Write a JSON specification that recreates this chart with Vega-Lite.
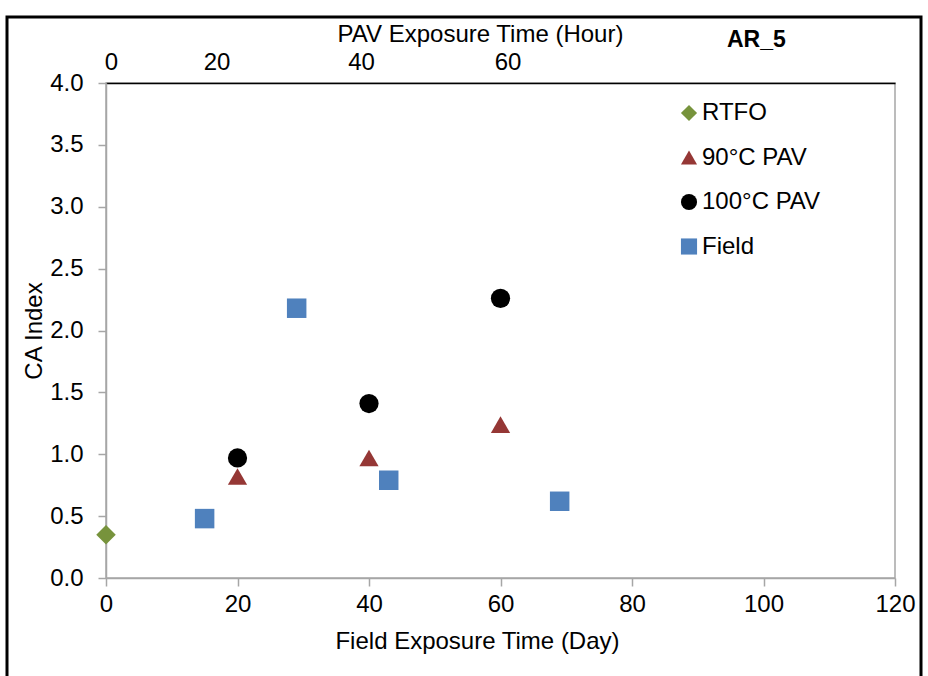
{
  "$schema": "https://vega.github.io/schema/vega-lite/v6.json",
  "width": 789,
  "height": 495,
  "autosize": {"type": "none"},
  "padding": {"left": 106, "top": 83, "right": 33, "bottom": 98},
  "background": "white",
  "title": {
    "text": "AR_5",
    "anchor": "start",
    "frame": "group",
    "dx": 621,
    "dy": 40,
    "fontSize": 23,
    "fontWeight": "bold",
    "font": "Liberation Sans",
    "color": "black"
  },
  "config": {
    "font": "Liberation Sans",
    "view": {"stroke": "#a6a6a6", "strokeWidth": 1.5},
    "axis": {
      "labelFont": "Liberation Sans",
      "titleFont": "Liberation Sans",
      "labelFontSize": 24,
      "titleFontSize": 24,
      "labelColor": "black",
      "titleColor": "black",
      "titleFontWeight": "normal",
      "labelFlush": false,
      "grid": false,
      "domainColor": "#a6a6a6",
      "domainWidth": 1.5,
      "tickColor": "#a6a6a6",
      "tickWidth": 1.5,
      "tickSize": 8
    },
    "legend": {
      "labelFont": "Liberation Sans",
      "labelFontSize": 24,
      "labelColor": "black",
      "symbolSize": 260,
      "symbolStrokeWidth": 0,
      "labelOffset": 1,
      "rowPadding": 20.5
    }
  },
  "datasets": {
    "fieldDays": [
      {"series": "RTFO", "day": 0, "ca": 0.35},
      {"series": "Field", "day": 15, "ca": 0.48},
      {"series": "Field", "day": 29, "ca": 2.18},
      {"series": "Field", "day": 43, "ca": 0.79},
      {"series": "Field", "day": 69, "ca": 0.62}
    ],
    "pavHours": [
      {"series": "90°C PAV", "hour": 20, "ca": 0.82},
      {"series": "90°C PAV", "hour": 40, "ca": 0.97},
      {"series": "90°C PAV", "hour": 60, "ca": 1.24},
      {"series": "100°C PAV", "hour": 20, "ca": 0.97},
      {"series": "100°C PAV", "hour": 40, "ca": 1.41},
      {"series": "100°C PAV", "hour": 60, "ca": 2.26}
    ]
  },
  "layer": [
    {
      "data": {"values": [{}]},
      "mark": {
        "type": "rect",
        "fill": null,
        "stroke": "black",
        "strokeWidth": 3,
        "x": {"expr": "-99"},
        "x2": {"expr": "width + 26"},
        "y": {"expr": "-66"},
        "y2": {"expr": "height + 200"}
      },
      "encoding": {}
    },
    {
      "data": {"name": "pavHours"},
      "mark": {"type": "point", "filled": true, "size": 370, "opacity": 1},
      "encoding": {
        "x": {
          "field": "hour",
          "type": "quantitative",
          "scale": {"domain": [0, 120], "nice": false},
          "axis": {
            "orient": "top",
            "values": [0, 20, 40, 60],
            "ticks": false,
            "domainColor": "black",
            "domainWidth": 1.5,
            "labelPadding": 9,
            "labelOffset": {"expr": "datum.value == 0 ? 5 : datum.value == 20 ? -21 : datum.value == 40 ? -8 : 7"},
            "title": "PAV Exposure Time (Hour)",
            "titleX": 374,
            "titleY": -42,
            "titleAlign": "center",
            "titleBaseline": "alphabetic"
          }
        },
        "y": {
          "field": "ca",
          "type": "quantitative",
          "scale": {"domain": [0, 4], "nice": false},
          "axis": {
            "values": [0, 0.5, 1, 1.5, 2, 2.5, 3, 3.5, 4],
            "format": ".1f",
            "labelPadding": 15,
            "title": "CA Index",
            "titleX": -72,
            "titleBaseline": "middle"
          }
        },
        "color": {
          "field": "series",
          "type": "nominal",
          "scale": {
            "domain": ["RTFO", "90°C PAV", "100°C PAV", "Field"],
            "range": ["#77933C", "#953735", "#000000", "#4F81BD"]
          },
          "legend": {"title": null, "orient": "none", "legendX": 571, "legendY": 18}
        },
        "shape": {
          "field": "series",
          "type": "nominal",
          "scale": {
            "domain": ["RTFO", "90°C PAV", "100°C PAV", "Field"],
            "range": ["diamond", "triangle-up", "circle", "square"]
          },
          "legend": {"title": null, "orient": "none", "legendX": 571, "legendY": 18}
        }
      }
    },
    {
      "data": {"name": "fieldDays"},
      "mark": {"type": "point", "filled": true, "size": 380, "opacity": 1},
      "encoding": {
        "x": {
          "field": "day",
          "type": "quantitative",
          "scale": {"domain": [0, 120], "nice": false},
          "axis": {
            "orient": "bottom",
            "values": [0, 20, 40, 60, 80, 100, 120],
            "labelPadding": 6,
            "title": "Field Exposure Time (Day)",
            "titleX": 371,
            "titleY": 70,
            "titleAlign": "center",
            "titleBaseline": "alphabetic"
          }
        },
        "y": {"field": "ca", "type": "quantitative"},
        "color": {"field": "series", "type": "nominal"},
        "shape": {"field": "series", "type": "nominal"}
      }
    }
  ],
  "resolve": {"scale": {"x": "independent"}, "axis": {"x": "independent"}}
}
